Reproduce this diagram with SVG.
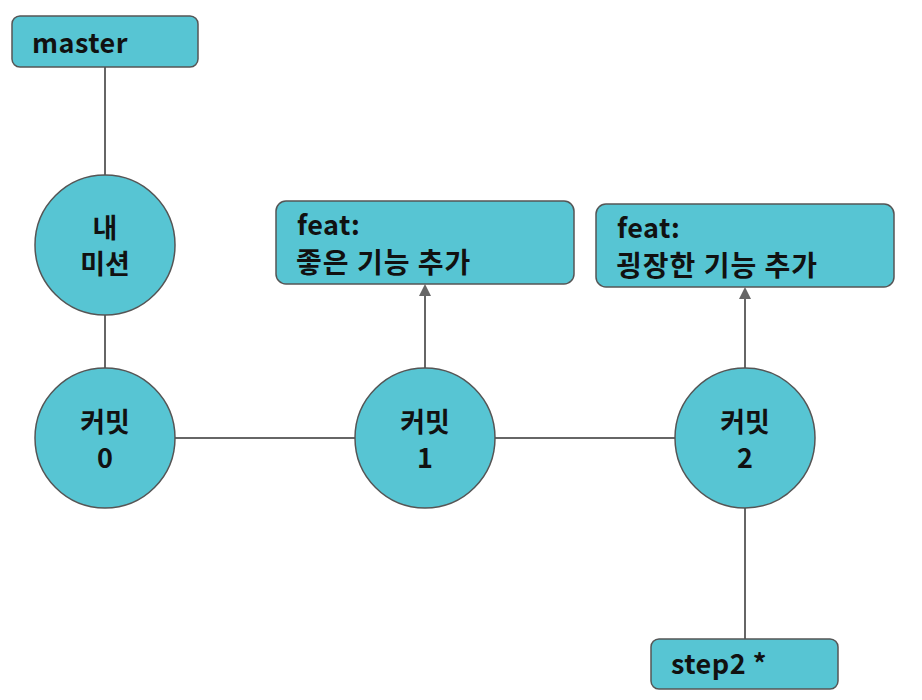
<svg xmlns="http://www.w3.org/2000/svg" width="922" height="700" viewBox="0 0 922 700">
<defs>
<style>
.n{fill:#57C5D3;stroke:#555;stroke-width:1.5}
.e{stroke:#666;stroke-width:2;fill:none}
.t{font-family:"Noto Sans CJK KR","Noto Sans",sans-serif;font-weight:700;fill:#111}
.c{font-size:27px;text-anchor:middle}
.b{font-size:27px;letter-spacing:0.5px}
.k{font-size:28px;letter-spacing:1px}
</style>
<marker id="ah" markerWidth="12" markerHeight="12" refX="10" refY="6" orient="auto" markerUnits="userSpaceOnUse">
<path d="M0,0 L12,6 L0,12 Z" fill="#666"/>
</marker>
</defs>
<rect width="922" height="700" fill="#fff"/>
<g id="edges">
<line class="e" x1="105" y1="67" x2="105" y2="175"/>
<line class="e" x1="105" y1="315" x2="105" y2="368"/>
<line class="e" x1="175" y1="438" x2="355" y2="438"/>
<line class="e" x1="495" y1="438" x2="675" y2="438"/>
<line class="e" x1="425" y1="368" x2="425" y2="286" marker-end="url(#ah)"/>
<line class="e" x1="745" y1="368" x2="745" y2="289" marker-end="url(#ah)"/>
<line class="e" x1="745" y1="508" x2="745" y2="639"/>
</g>
<g id="master">
<rect class="n" x="12" y="16" width="186" height="51" rx="8"/>
<text class="t b" x="32" y="53">master</text>
</g>
<g id="mission">
<circle class="n" cx="105" cy="245" r="70"/>
<text class="t c" x="105" y="238">내<tspan x="105" dy="36">미션</tspan></text>
</g>
<g id="commit0">
<circle class="n" cx="105" cy="438" r="70"/>
<text class="t c" x="105" y="432">커밋<tspan x="105" dy="36">0</tspan></text>
</g>
<g id="commit1">
<circle class="n" cx="425" cy="438" r="70"/>
<text class="t c" x="425" y="432">커밋<tspan x="425" dy="36">1</tspan></text>
</g>
<g id="commit2">
<circle class="n" cx="745" cy="438" r="70"/>
<text class="t c" x="745" y="432">커밋<tspan x="745" dy="36">2</tspan></text>
</g>
<g id="feat1">
<rect class="n" x="276" y="201" width="298" height="83" rx="10"/>
<text class="t b" x="297" y="235">feat:</text>
<text class="t k" x="296" y="273">좋은 기능 추가</text>
</g>
<g id="feat2">
<rect class="n" x="596" y="204" width="298" height="83" rx="10"/>
<text class="t b" x="617" y="238">feat:</text>
<text class="t k" x="616" y="276">굉장한 기능 추가</text>
</g>
<g id="step2">
<rect class="n" x="651" y="639" width="187" height="50" rx="8"/>
<text class="t b" x="671" y="674">step2 *</text>
</g>
</svg>
